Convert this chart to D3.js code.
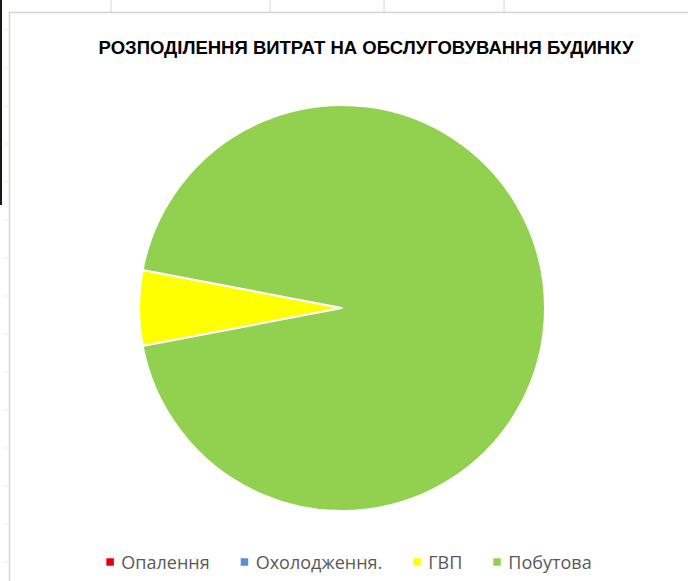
<!DOCTYPE html>
<html>
<head>
<meta charset="utf-8">
<script src="https://cdn.jsdelivr.net/npm/d3@7"></script>
<style>
  html, body { margin: 0; padding: 0; background: #ffffff; }
  svg { display: block; }
</style>
</head>
<body>
<svg id="chart" width="688" height="581"></svg>
<script>
// Cost shares for the building (%)
const categories = ["Опалення", "Охолодження.", "ГВП", "Побутова"];
const values = [0, 0, 6, 94];
const colors = ["#e3000f", "#5b8fcf", "#ffff00", "#92d050"];
const title = "РОЗПОДІЛЕННЯ ВИТРАТ НА ОБСЛУГОВУВАННЯ БУДИНКУ";

// Worksheet column marks visible above the chart frame
const sheetColumns = [111, 270, 384, 504];

const W = 688, H = 581;
const svg = d3.select("#chart");

// Worksheet backdrop: dark cell edge on the far left and faint column lines
svg.append("rect").attr("x", 0).attr("y", 0).attr("width", 2).attr("height", 205)
  .attr("fill", "#1e1a12");
svg.selectAll("line.col").data(sheetColumns).join("line")
  .attr("class", "col")
  .attr("x1", d => d).attr("x2", d => d)
  .attr("y1", 0).attr("y2", 12)
  .attr("stroke", "#d6d6d6").attr("stroke-width", 1);
svg.selectAll("line.row").data(d3.range(30, H, 38)).join("line")
  .attr("class", "row")
  .attr("x1", 3).attr("x2", 8)
  .attr("y1", d => d).attr("y2", d => d)
  .attr("stroke", "#ececec").attr("stroke-width", 1);

// Chart frame
svg.append("path")
  .attr("d", `M9.5,${H} V12.5 H${W}`)
  .attr("fill", "none").attr("stroke", "#d4d4d4").attr("stroke-width", 1.5);

// Title
svg.append("text")
  .attr("x", 366).attr("y", 54)
  .attr("text-anchor", "middle")
  .attr("font-family", "'Liberation Sans', Arial, sans-serif")
  .attr("font-weight", "bold")
  .attr("font-size", 18.5)
  .attr("fill", "#000")
  .text(title);

// Pie
const cx = 342, cy = 308, r = 203;
const data = categories.map((c, i) => ({ name: c, value: values[i], color: colors[i] }));
const firstSliceAngle = 259.2 * Math.PI / 180;
const pie = d3.pie().value(d => d.value).sort(null)
  .startAngle(firstSliceAngle).endAngle(firstSliceAngle + 2 * Math.PI);
const arc = d3.arc().innerRadius(0).outerRadius(r);

svg.append("g").attr("transform", `translate(${cx},${cy})`)
  .selectAll("path").data(pie(data).filter(d => d.data.value > 0)).join("path")
  .attr("d", arc)
  .attr("fill", d => d.data.color)
  .attr("stroke", "#ffffff")
  .attr("stroke-width", 2)
  .attr("stroke-linejoin", "round");

// Legend
const legend = svg.append("g");
const items = legend.selectAll("g").data(data).join("g");
items.append("rect")
  .attr("width", 7.5).attr("height", 7.5)
  .attr("y", -3.75)
  .attr("fill", d => d.color);
items.append("text")
  .attr("x", 15).attr("y", 6.5)
  .attr("font-family", "'Open Sans', Lato, sans-serif")
  .attr("font-size", 18)
  .attr("fill", "#595959")
  .text(d => d.name);

const gap = 31;
const widths = items.nodes().map(n => n.getBBox().width);
const total = d3.sum(widths) + gap * (widths.length - 1);
const start = (103 + 595) / 2 - total / 2;
items.attr("transform", (d, i) =>
  `translate(${start + d3.sum(widths.slice(0, i)) + gap * i},562)`);
</script>
</body>
</html>
